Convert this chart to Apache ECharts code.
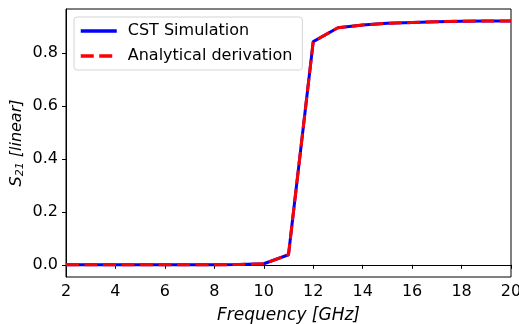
<!DOCTYPE html>
<html>
<head>
<meta charset="utf-8">
<script src="https://cdn.jsdelivr.net/npm/echarts@6/dist/echarts.min.js"></script>
<style>
  html, body { margin: 0; padding: 0; background: #fff; }
  #chart { width: 519px; height: 324px; }
</style>
</head>
<body>
<div id="chart"></div>
<script>
// frequency points in GHz
const freq = [2, 3, 4, 5, 6, 7, 8, 9, 10, 11, 12, 13, 14, 15, 16, 17, 18, 19, 20];
// S21 (linear)
const cstValues = [0, 0, 0, 0, 0, 0, 0, 0.001, 0.004, 0.038, 0.843, 0.895, 0.906, 0.912, 0.915, 0.918, 0.920, 0.921, 0.921];
const analyticValues = [0, 0, 0, 0, 0, 0, 0, 0.001, 0.004, 0.038, 0.843, 0.895, 0.906, 0.912, 0.915, 0.918, 0.920, 0.921, 0.921];
const seriesNames = ['CST Simulation', 'Analytical derivation'];

const font = 'DejaVu Sans';
const blue = '#0000ff';
const red = '#ff0000';
const dash = [13, 5.5];

const chart = echarts.init(document.getElementById('chart'));

chart.setOption({
  animation: false,
  textStyle: { fontFamily: font },
  grid: {
    left: 66, right: 8, top: 9, bottom: 47,
    outerBoundsMode: 'none',
    show: true, borderColor: '#000', borderWidth: 1, backgroundColor: 'transparent'
  },
  legend: {
    orient: 'vertical',
    left: 74, top: 17,
    padding: [6, 10, 6, 5],
    itemWidth: 36, itemHeight: 14, itemGap: 9,
    backgroundColor: 'rgba(255,255,255,0.8)',
    borderColor: '#d4d4d4', borderWidth: 1, borderRadius: 3,
    textStyle: { fontFamily: font, fontSize: 16, color: '#000', padding: [0, 0, 0, 6] },
    data: [
      { name: seriesNames[0], itemStyle: { opacity: 0 }, lineStyle: { color: blue, width: 3.5, type: 'solid' } },
      { name: seriesNames[1], itemStyle: { opacity: 0 }, lineStyle: { color: red, width: 3.5, type: dash } }
    ]
  },
  xAxis: {
    type: 'value',
    min: 2, max: 20, interval: 2,
    name: 'Frequency [GHz]',
    nameLocation: 'middle', nameGap: 30,
    nameMoveOverlap: false,
    nameTextStyle: { fontFamily: font, fontSize: 17, fontStyle: 'italic', color: '#000' },
    axisLine: { show: true, lineStyle: { color: '#000', width: 1 } },
    axisTick: { show: true, length: 4, lineStyle: { color: '#000' } },
    axisLabel: { fontSize: 16, color: '#000', margin: 7 },
    splitLine: { show: false }
  },
  yAxis: {
    type: 'value',
    min: -0.046, max: 0.966,
    splitNumber: 5,
    name: '{i|S}{sub|21}{i| [linear]}',
    nameLocation: 'middle', nameGap: 40, nameRotate: 90,
    nameMoveOverlap: false,
    nameTextStyle: {
      rich: {
        i: { fontFamily: font, fontSize: 16, fontStyle: 'italic', color: '#000' },
        sub: { fontFamily: font, fontSize: 11, fontStyle: 'italic', color: '#000', padding: [8, 0, 0, 0] }
      }
    },
    axisLine: { show: true, lineStyle: { color: '#000', width: 1 } },
    axisTick: { show: true, length: 4, lineStyle: { color: '#000' } },
    axisLabel: {
      fontSize: 16, color: '#000', margin: 8,
      showMinLabel: false, showMaxLabel: false,
      formatter: v => v.toFixed(1)
    },
    splitLine: { show: false }
  },
  series: [
    {
      name: seriesNames[0],
      type: 'line',
      data: freq.map((f, i) => [f, cstValues[i]]),
      symbol: 'none',
      lineStyle: { color: blue, width: 3 },
      itemStyle: { color: blue },
      z: 2
    },
    {
      name: seriesNames[1],
      type: 'line',
      data: freq.map((f, i) => [f, analyticValues[i]]),
      symbol: 'none',
      lineStyle: { color: red, width: 3, type: dash },
      itemStyle: { color: red },
      z: 3
    }
  ]
});
</script>
</body>
</html>
